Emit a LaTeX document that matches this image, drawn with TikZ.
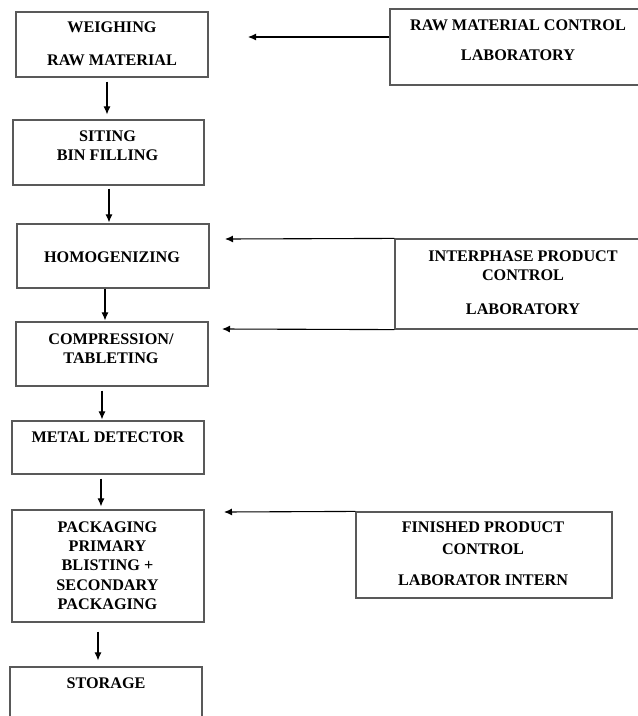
\documentclass[tikz,border=0pt]{standalone}
\usepackage{fontspec}
\setmainfont{Liberation Serif}
\usetikzlibrary{arrows.meta,calc}
\begin{document}
\begin{tikzpicture}[x=1pt,y=-1pt,
  box/.style={draw=black!65, line width=1.2pt, rectangle, inner sep=0pt},
  txt/.style={align=center, inner sep=0pt, font=\fontsize{16.2}{19.3}\selectfont\bfseries},
  arr/.style={draw=black, line width=1.1pt, -{Latex[length=8pt,width=7pt]}}]
\clip (0,0) rectangle (638,716);
\fill[white] (0,0) rectangle (638,716);
% process boxes
\node[box, minimum width=192pt, minimum height=65pt] (b1) at (112,44.5) {};
\node[box, minimum width=191pt, minimum height=65pt] (b2) at (108.5,152.5) {};
\node[box, minimum width=192pt, minimum height=64pt] (b3) at (113,256) {};
\node[box, minimum width=192pt, minimum height=64pt] (b4) at (112,354) {};
\node[box, minimum width=192pt, minimum height=53pt] (b5) at (108,447.5) {};
\node[box, minimum width=192pt, minimum height=112pt] (b6) at (108,566) {};
\node[box, minimum width=192pt, minimum height=73pt] (b7) at (106,703.5) {};
% control boxes
\node[box, minimum width=270pt, minimum height=76pt] (rm) at (525,47) {};
\node[box, minimum width=265pt, minimum height=90pt] (ip) at (527.5,284) {};
\node[box, minimum width=256pt, minimum height=86pt] (fp) at (484,555) {};
% texts
\node[txt] (t1) at (112,43.5) {WEIGHING\\[14pt]RAW MATERIAL};
\node[txt] (t2) at (107.5,145.5) {SITING\\BIN FILLING};
\node[txt] (t3) at (112,257) {HOMOGENIZING};
\node[txt] (t4) at (111,348.5) {COMPRESSION/\\TABLETING};
\node[txt] (t5) at (108,437) {METAL DETECTOR};
\node[txt] (t6) at (107.5,565.5) {PACKAGING\\PRIMARY\\BLISTING +\\SECONDARY\\PACKAGING};
\node[txt] (t7) at (106,683) {STORAGE};
\node[txt] (t8) at (518,40) {RAW MATERIAL CONTROL\\[11pt]LABORATORY};
\node[txt] (t9) at (523,282.5) {INTERPHASE PRODUCT\\CONTROL\\[14pt]LABORATORY};
\node[txt] (t10) at (483,554) {FINISHED PRODUCT\\[2pt]CONTROL\\[12pt]LABORATOR INTERN};
% vertical flow arrows
\draw[arr, shorten <=4pt, shorten >=5pt] ([xshift=-5pt]b1.south) -- ([xshift=-5pt]b1.south |- b2.north);
\draw[arr, shorten <=3pt, shorten >=1pt] ([xshift=0.5pt]b2.south) -- ([xshift=0.5pt]b2.south |- b3.north);
\draw[arr, shorten >=1pt] ([xshift=-8pt]b3.south) -- ([xshift=-8pt]b3.south |- b4.north);
\draw[arr, shorten <=4pt, shorten >=1pt] ([xshift=-10pt]b4.south) -- ([xshift=-10pt]b4.south |- b5.north);
\draw[arr, shorten <=4pt, shorten >=3pt] ([xshift=-7pt]b5.south) -- ([xshift=-7pt]b5.south |- b6.north);
\draw[arr, shorten <=9pt, shorten >=6pt] ([xshift=-10pt]b6.south) -- ([xshift=-10pt]b6.south |- b7.north);
% control arrows
\coordinate (r1) at (248,37);
\coordinate (i1) at (225,239);
\coordinate (i2) at (222,329);
\coordinate (f1) at (224,512);
\draw[arr] (r1 -| rm.west) -- (r1);
\draw[arr] (ip.north west) -- (i1);
\draw[arr] (ip.south west) -- (i2);
\draw[arr] (fp.north west) -- (f1);
\end{tikzpicture}
\end{document}
